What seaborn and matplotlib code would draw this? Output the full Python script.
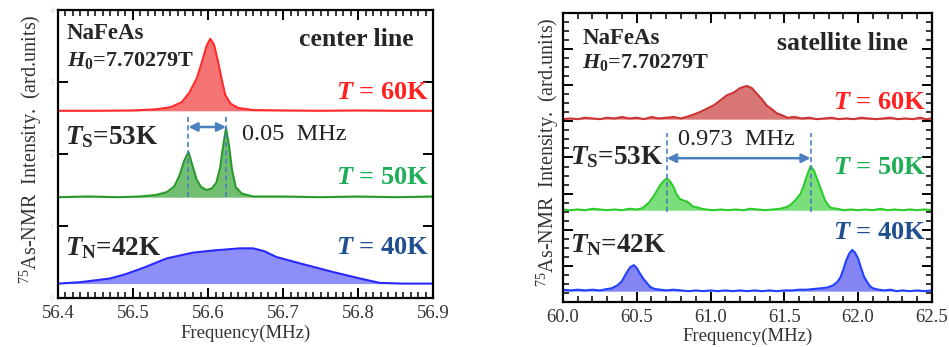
import pandas as pd
import matplotlib
matplotlib.use("Agg")
import matplotlib.pyplot as plt
import seaborn as sns
from matplotlib.ticker import MultipleLocator, FixedLocator, FixedFormatter, NullFormatter

# ---------------------------------------------------------------- data
# 75As-NMR spectra of NaFeAs at H0 = 7.70279 T (intensity above each trace's baseline)
center_60 = [(56.40, 0.00), (56.45, 0.00), (56.50, 0.005), (56.53, 0.02), (56.55, 0.05),
             (56.565, 0.12), (56.575, 0.25), (56.585, 0.45), (56.592, 0.68), (56.598, 0.90),
             (56.603, 1.00), (56.608, 0.92), (56.613, 0.70), (56.618, 0.45), (56.623, 0.22),
             (56.63, 0.10), (56.64, 0.04), (56.66, 0.01), (56.70, 0.005), (56.75, 0.00),
             (56.80, 0.005), (56.85, 0.00), (56.90, 0.00)]
center_50 = [(56.40, 0.00), (56.44, 0.01), (56.48, 0.00), (56.51, 0.01), (56.53, 0.03),
             (56.545, 0.07), (56.555, 0.15), (56.562, 0.30), (56.568, 0.50), (56.574, 0.63),
             (56.579, 0.45), (56.585, 0.24), (56.591, 0.14), (56.598, 0.10), (56.605, 0.12),
             (56.611, 0.20), (56.616, 0.40), (56.620, 0.70), (56.624, 0.96), (56.628, 0.72),
             (56.632, 0.38), (56.637, 0.14), (56.645, 0.05), (56.66, 0.01), (56.70, 0.01),
             (56.75, 0.00), (56.80, 0.01), (56.85, 0.00), (56.90, 0.01)]
center_40 = [(56.40, 0.00), (56.43, 0.02), (56.469, 0.07), (56.49, 0.13), (56.514, 0.22),
             (56.545, 0.35), (56.58, 0.43), (56.607, 0.46), (56.643, 0.49), (56.66, 0.49),
             (56.675, 0.45), (56.691, 0.37), (56.723, 0.28), (56.767, 0.16), (56.803, 0.07),
             (56.829, 0.01), (56.86, 0.00), (56.90, 0.00)]

sat_60 = [(60.00, 0.00), (60.05, 0.01), (60.10, 0.00), (60.15, 0.02), (60.20, 0.01),
          (60.25, 0.00), (60.30, 0.02), (60.35, 0.01), (60.40, 0.03), (60.45, 0.01),
          (60.50, 0.02), (60.55, 0.00), (60.60, 0.03), (60.65, 0.01), (60.70, 0.02),
          (60.75, 0.03), (60.80, 0.01), (60.85, 0.04), (60.88, 0.06), (60.93, 0.10),
          (60.98, 0.15), (61.02, 0.19), (61.06, 0.25), (61.11, 0.33), (61.16, 0.37),
          (61.20, 0.43), (61.245, 0.46), (61.28, 0.43), (61.31, 0.36), (61.35, 0.27),
          (61.38, 0.19), (61.42, 0.13), (61.45, 0.08), (61.49, 0.05), (61.52, 0.02),
          (61.57, 0.03), (61.62, 0.01), (61.67, 0.02), (61.72, 0.00), (61.77, 0.01),
          (61.82, 0.02), (61.87, 0.00), (61.92, 0.01), (61.97, 0.00), (62.02, 0.02),
          (62.07, 0.01), (62.12, 0.00), (62.17, 0.01), (62.22, 0.02), (62.27, 0.00),
          (62.32, 0.01), (62.37, 0.00), (62.42, 0.02), (62.46, 0.00), (62.50, 0.01)]
sat_50 = [(60.00, 0.01), (60.05, 0.00), (60.10, 0.01), (60.15, 0.00), (60.20, 0.02),
          (60.25, 0.01), (60.30, 0.00), (60.35, 0.01), (60.40, 0.00), (60.45, 0.02),
          (60.50, 0.01), (60.54, 0.03), (60.58, 0.10), (60.61, 0.18), (60.64, 0.28),
          (60.66, 0.35), (60.685, 0.41), (60.705, 0.44), (60.725, 0.40), (60.75, 0.32),
          (60.77, 0.22), (60.79, 0.16), (60.81, 0.14), (60.84, 0.12), (60.86, 0.09),
          (60.88, 0.05), (60.91, 0.04), (60.94, 0.02), (60.97, 0.01), (61.02, 0.00),
          (61.07, 0.01), (61.12, 0.00), (61.17, 0.01), (61.22, 0.00), (61.27, 0.02),
          (61.32, 0.01), (61.37, 0.00), (61.42, 0.01), (61.47, 0.02), (61.51, 0.04),
          (61.54, 0.07), (61.58, 0.15), (61.61, 0.23), (61.63, 0.33), (61.65, 0.46),
          (61.678, 0.61), (61.70, 0.55), (61.73, 0.39), (61.755, 0.25), (61.775, 0.14),
          (61.80, 0.06), (61.82, 0.03), (61.86, 0.02), (61.90, 0.00), (61.95, 0.01),
          (62.00, 0.00), (62.05, 0.01), (62.10, 0.00), (62.15, 0.02), (62.20, 0.00),
          (62.25, 0.01), (62.30, 0.00), (62.35, 0.01), (62.40, 0.00), (62.45, 0.01),
          (62.50, 0.00)]
sat_40 = [(60.00, 0.02), (60.05, 0.01), (60.10, 0.02), (60.15, 0.01), (60.20, 0.02),
          (60.25, 0.01), (60.30, 0.03), (60.33, 0.04), (60.37, 0.08), (60.40, 0.14),
          (60.43, 0.25), (60.455, 0.33), (60.48, 0.36), (60.50, 0.32), (60.52, 0.25),
          (60.545, 0.17), (60.57, 0.11), (60.59, 0.06), (60.62, 0.03), (60.66, 0.02),
          (60.70, 0.01), (60.75, 0.02), (60.80, 0.01), (60.85, 0.00), (60.90, 0.01),
          (60.95, 0.00), (61.00, 0.01), (61.05, 0.00), (61.10, 0.01), (61.15, 0.00),
          (61.20, 0.01), (61.25, 0.00), (61.30, 0.01), (61.35, 0.00), (61.40, 0.01),
          (61.45, 0.00), (61.50, 0.01), (61.55, 0.01), (61.60, 0.02), (61.65, 0.02),
          (61.70, 0.03), (61.75, 0.04), (61.79, 0.05), (61.83, 0.08), (61.86, 0.13),
          (61.88, 0.19), (61.90, 0.30), (61.92, 0.43), (61.94, 0.52), (61.96, 0.57),
          (61.98, 0.53), (62.00, 0.45), (62.02, 0.32), (62.04, 0.20), (62.06, 0.13),
          (62.08, 0.07), (62.10, 0.04), (62.14, 0.02), (62.18, 0.01), (62.22, 0.02),
          (62.26, 0.00), (62.30, 0.01), (62.35, 0.00), (62.40, 0.01), (62.45, 0.00),
          (62.50, 0.01)]

temperatures = ["60K", "50K", "40K"]
center_offsets = [2.6, 1.4, 0.2]
sat_offsets = [2.53, 1.27, 0.15]

center_ticks = [56.4, 56.5, 56.6, 56.7, 56.8, 56.9]
center_tick_labels = ["56.4", "56.5", "56.6", "56.7", "56.8", "56.9"]
sat_ticks = [60.0, 60.5, 61.0, 61.5, 62.0, 62.5]
sat_tick_labels = ["60.0", "60.5", "61.0", "61.5", "62.0", "62.5"]
intensity_ticks = [0, 1, 2, 3, 4]
intensity_tick_labels = ["0", "1", "2", "3", "4"]

# split peaks marked in the T = 50K traces (MHz)
center_split = (56.574, 56.624)
sat_split = (60.705, 61.678)

# ---------------------------------------------------------------- style
sns.set_theme(style="ticks")
plt.rcParams.update({
    "font.family": ["Liberation Serif", "DejaVu Serif"],
    "mathtext.fontset": "custom",
    "mathtext.rm": "Liberation Serif:bold",
    "mathtext.it": "Liberation Serif:italic:bold",
    "mathtext.bf": "Liberation Serif:bold",
    "mathtext.sf": "Liberation Serif",
    "axes.linewidth": 1.6,
    "axes.edgecolor": "black",
})

label_colors = ["#ff2020", "#1fae55", "#1f4f8f"]
marker_color = "#4a7fc0"


def spectrum_frame(pairs, offset):
    df = pd.DataFrame(pairs, columns=["freq", "intensity"])
    df["signal"] = df["intensity"] + offset
    return df


def draw_panel(ax, spectra, offsets, line_colors, fill_colors):
    for pairs, off, lc, fc in zip(spectra, offsets, line_colors, fill_colors):
        df = spectrum_frame(pairs, off)
        ax.fill_between(df["freq"], off, df["signal"], color=fc, lw=0, zorder=1)
        sns.lineplot(data=df, x="freq", y="signal", ax=ax, color=lc, lw=1.5,
                     sort=False, zorder=2)


def style_ticks(ax):
    ax.tick_params(which="both", direction="in", top=True, right=True,
                   bottom=True, left=True, colors="black",
                   labelcolor="#333333", labelsize=13.5, pad=5)
    ax.tick_params(which="major", length=7, width=1.4)
    ax.tick_params(which="minor", length=4, width=1.1)


fig = plt.figure(figsize=(9.49, 3.47), dpi=100)
ax1 = fig.add_axes([0.0611, 0.1412, 0.3952, 0.8300])
ax2 = fig.add_axes([0.5932, 0.1297, 0.3888, 0.8330])

# ---------------------------------------------------------------- center line
draw_panel(ax1, [center_60, center_50, center_40], center_offsets,
           ["#ff2a2a", "#2a9a2a", "#2828ff"],
           ["#f47474", "#72bf72", "#8e8ef8"])
ax1.set_xlim(56.4, 56.9)
ax1.set_ylim(0, 4)
ax1.xaxis.set_major_locator(FixedLocator(center_ticks))
ax1.xaxis.set_major_formatter(FixedFormatter(center_tick_labels))
ax1.xaxis.set_minor_locator(MultipleLocator(0.01))
ax1.yaxis.set_major_locator(FixedLocator(intensity_ticks))
ax1.yaxis.set_major_formatter(FixedFormatter(intensity_tick_labels))
style_ticks(ax1)
ax1.tick_params(axis="y", labelsize=6, labelcolor="#d4dae3", pad=3)
ax1.set_xlabel("Frequency(MHz)", fontsize=13.5, color="#333333", labelpad=2)
ax1.set_ylabel("")

# ---------------------------------------------------------------- satellite line
draw_panel(ax2, [sat_60, sat_50, sat_40], sat_offsets,
           ["#cc3333", "#2ccc2c", "#2040ff"],
           ["#d97676", "#7ade7a", "#8484f2"])
ax2.set_xlim(60.0, 62.5)
ax2.set_ylim(0, 4)
ax2.xaxis.set_major_locator(FixedLocator(sat_ticks))
ax2.xaxis.set_major_formatter(FixedFormatter(sat_tick_labels))
ax2.xaxis.set_minor_locator(MultipleLocator(0.1))
ax2.yaxis.set_major_locator(MultipleLocator(0.5))
ax2.yaxis.set_minor_locator(MultipleLocator(0.125))
style_ticks(ax2)
ax2.yaxis.set_major_formatter(NullFormatter())
ax2.set_xlabel("Frequency(MHz)", fontsize=13.5, color="#333333", labelpad=1)
ax2.set_ylabel("")

ylab = r"$^{\mathsf{75}}$As-NMR  Intensity.  (ard.units)"
fig.text(0.033, 0.57, ylab, rotation=90, ha="center", va="center",
         fontsize=14.5, color="#333333")
fig.text(0.577, 0.56, ylab, rotation=90, ha="center", va="center",
         fontsize=14.5, color="#333333")

# ---------------------------------------------------------------- annotations
def annotate(ax, title, pos):
    t = ax.transAxes
    ax.text(pos["sample"][0], pos["sample"][1], "NaFeAs", transform=t,
            fontsize=16.5, fontweight="bold", ha="left", va="center")
    ax.text(pos["field"][0], pos["field"][1], r"$H_{0}$=7.70279T", transform=t,
            fontsize=16, fontweight="bold", ha="left", va="center")
    ax.text(pos["title"][0], pos["title"][1], title, transform=t,
            fontsize=18.5, fontweight="bold", ha="right", va="center")
    for (x, y), temp, c in zip(pos["temps"], temperatures, label_colors):
        ax.text(x, y, r"$T$ = " + temp, transform=t, fontsize=19,
                fontweight="bold", color=c, ha="right", va="center")
    ax.text(pos["ts"][0], pos["ts"][1], r"$T_{\mathrm{S}}$=53K", transform=t,
            fontsize=19.5, fontweight="bold", ha="left", va="center")
    ax.text(pos["tn"][0], pos["tn"][1], r"$T_{\mathrm{N}}$=42K", transform=t,
            fontsize=19.5, fontweight="bold", ha="left", va="center")


annotate(ax1, "center line", {
    "sample": (0.024, 0.92), "field": (0.024, 0.826), "title": (0.947, 0.896),
    "temps": [(0.99, 0.712), (0.99, 0.417), (0.99, 0.174)],
    "ts": (0.019, 0.559), "tn": (0.019, 0.174)})
annotate(ax2, "satellite line", {
    "sample": (0.054, 0.913), "field": (0.051, 0.827), "title": (0.935, 0.896),
    "temps": [(0.983, 0.689), (0.983, 0.464), (0.983, 0.239)],
    "ts": (0.019, 0.502), "tn": (0.019, 0.197)})


def mark_split(ax, split, y0, y1, y_arrow, text, text_xy):
    for x in split:
        ax.plot([x, x], [y0, y1], ls=(0, (3, 2)), color=marker_color, lw=1.2, zorder=3)
    ax.annotate("", xy=(split[1], y_arrow), xytext=(split[0], y_arrow),
                arrowprops=dict(arrowstyle="<|-|>", color=marker_color, lw=1.8,
                                mutation_scale=13, shrinkA=0, shrinkB=0))
    ax.text(text_xy[0], text_xy[1], text, transform=ax.transAxes, fontsize=17.5,
            color="#222222", ha="left", va="center")


mark_split(ax1, center_split, 1.40, 2.54, 2.375,
           f"{center_split[1] - center_split[0]:.2f}  MHz", (0.49, 0.566))
mark_split(ax2, sat_split, 1.25, 2.34, 1.99,
           f"{sat_split[1] - sat_split[0]:.3f}  MHz", (0.312, 0.561))

fig.savefig("out.png", dpi=100)
